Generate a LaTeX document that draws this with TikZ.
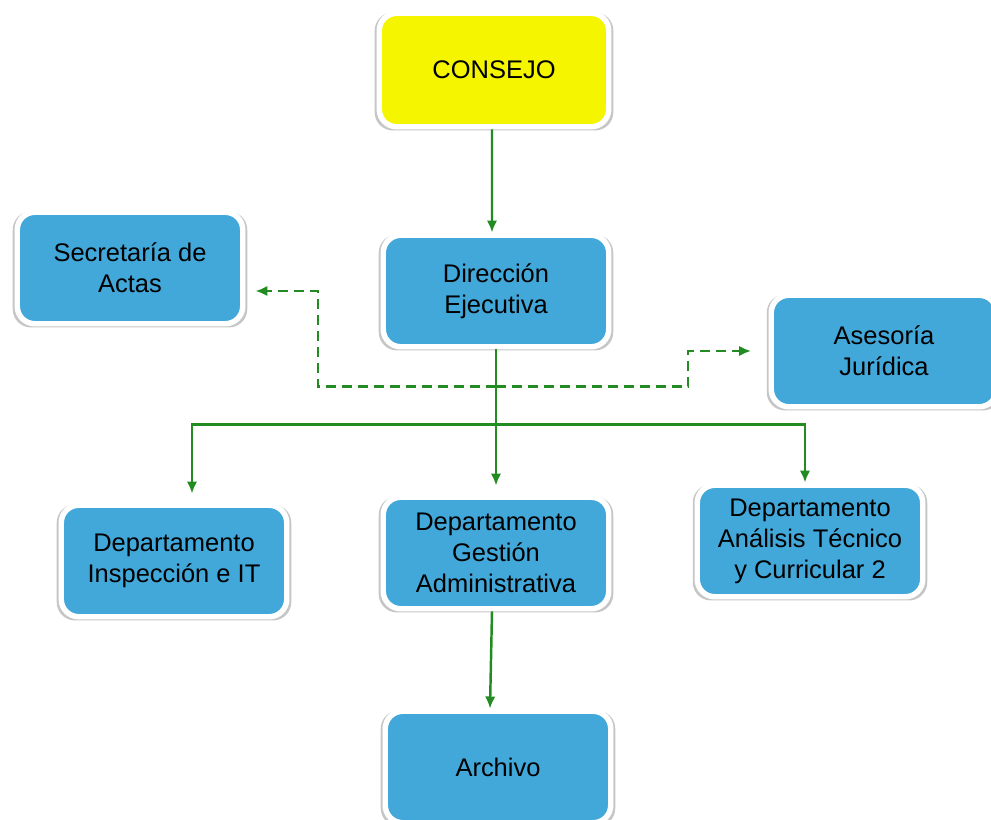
\documentclass[tikz,border=0pt]{standalone}
\usepackage{fontspec}
\setmainfont{Liberation Sans}
\usepackage{xcolor}
\usetikzlibrary{arrows.meta,shadows}

\definecolor{boxblue}{RGB}{66,168,218}
\definecolor{boxyellow}{RGB}{245,245,0}
\definecolor{linegreen}{RGB}{34,139,34}

\begin{document}
\begin{tikzpicture}[
    > = {Latex[length=2.4mm, width=2.1mm]}, % arrow head style
    node distance = 4.4cm % distance between nodes
]
\tikzstyle{box}=[
    draw = white,
    line width = 3.1pt,
    fill = boxblue,
    rounded corners = 0.35cm,
    minimum width = 4.51cm,
    minimum height = 2.23cm,
    align = center,
    font = \fontsize{14.5}{17.6}\selectfont,
    drop shadow = {shadow xshift=0pt, shadow yshift=-0.8pt, shadow scale=1.04, fill=black!50, opacity=0.45}
]
\tikzstyle{link}=[draw = linegreen, line width = 1.4pt, ->]
\tikzstyle{dashlink}=[link, dash pattern = on 5.5pt off 3.6pt]

\useasboundingbox (0,0) rectangle (19.82,-16.4);

\node[box, fill=boxyellow, minimum width=4.59cm, minimum height=2.27cm] (consejo) at (9.88,-1.40) {CONSEJO};
\node[box] (dir) [below of=consejo, node distance=4.42cm, xshift=0.04cm] {Dirección\\Ejecutiva};
\node[box] (secr) [left of=dir, node distance=7.32cm, yshift=0.46cm] {Secretaría de\\Actas};
\node[box] (ases) [right of=dir, node distance=7.76cm, yshift=-1.2cm] {Asesoría\\Jurídica};
\node[box] (gest) [below of=dir, node distance=5.24cm] {Departamento\\Gestión\\Administrativa};
\node[box] (insp) [left of=gest, node distance=6.44cm, yshift=-0.16cm] {Departamento\\Inspección e IT};
\node[box] (anal) [right of=gest, node distance=6.28cm, yshift=0.24cm] {Departamento\\Análisis Técnico\\y Curricular 2};
\node[box] (arch) [below of=gest, node distance=4.28cm, xshift=0.04cm] {Archivo};

\draw[link] ([xshift=-0.04cm]consejo.south) -- ([xshift=-0.08cm]dir.north);
\draw[link, shorten >=0.18cm] (dir.south) -- (gest.north);
\draw[link] ([xshift=-0.08cm]gest.south) -- ([xshift=-0.16cm]arch.north);

% bus to the departments
\path (dir.south) ++(0,-1.5) coordinate (bus);
\draw[link, shorten >=0.18cm] (bus) -| ([xshift=0.36cm]insp.north);
\draw[link] (bus) -| ([xshift=-0.1cm]anal.north);

% dashed staff links
\path (dir.south) ++(0,-0.74) coordinate (split);
\draw[dashlink, shorten >=0.2cm] (split) -- ++(-3.56,0) |- ([yshift=-0.46cm]secr.east);
\draw[dashlink, shorten >=0.35cm] (split) -- ++(3.84,0) |- (ases.west);

\end{tikzpicture}
\end{document}
